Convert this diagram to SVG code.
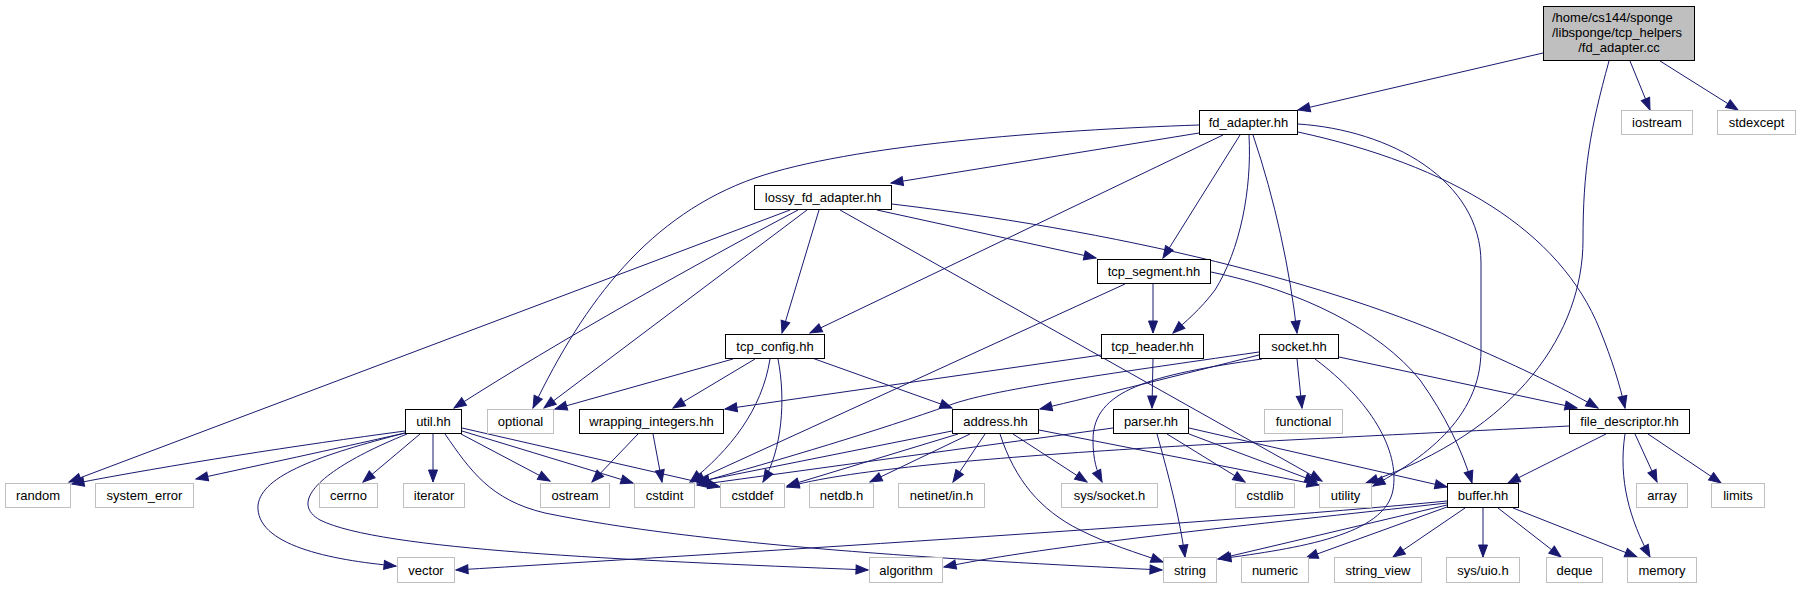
<svg xmlns="http://www.w3.org/2000/svg" width="1801" height="589" viewBox="0 0 1801 589">
<style>
text{font-family:"Liberation Sans",Arial,sans-serif;font-size:13px;fill:#000;text-anchor:middle}
.main rect{fill:#bfbfbf;stroke:#000;stroke-width:1}
.prj rect{fill:#fff;stroke:#000;stroke-width:1}
.sys rect{fill:#fff;stroke:#bfbfbf;stroke-width:1}
#edges path{fill:none;stroke:#191970;stroke-width:1;marker-end:url(#ah)}
</style>
<defs>
<marker id="ah" markerUnits="userSpaceOnUse" markerWidth="12" markerHeight="9" refX="12" refY="4.5" orient="auto" viewBox="0 0 12 9" overflow="visible">
<path d="M0,0 L12,4.5 L0,9 z" fill="#191970" stroke="#191970" stroke-width="1"/>
</marker>
</defs>
<rect width="1801" height="589" fill="#fff"/>
<g id="edges">
<path d="M1543,53 L1298,110"/>
<path d="M1630,61 L1650,110"/>
<path d="M1660,61 L1738,110"/>
<path d="M1609,61 C1590,130 1583,170 1583,240 C1583,330 1520,430 1366,483"/>
<path d="M1199,133 L891,183"/>
<path d="M1199,125 C1050,130 850,145 755,178 C650,215 585,300 533,408"/>
<path d="M1223,135 L810,333"/>
<path d="M1240,135 L1163,258"/>
<path d="M1249,135 C1252,190 1240,250 1215,290 C1200,310 1185,322 1173,333"/>
<path d="M1253,135 C1275,200 1290,270 1297,333"/>
<path d="M1298,124 C1390,130 1481,180 1481,263 L1481,350 C1481,420 1420,460 1373,486"/>
<path d="M1298,132 C1450,165 1560,230 1600,330 C1612,360 1620,385 1625,408"/>
<path d="M790,210 L69,482"/>
<path d="M798,210 C700,262 560,340 454,408"/>
<path d="M807,210 L544,408"/>
<path d="M819,210 L782,333"/>
<path d="M840,210 L1322,481"/>
<path d="M877,210 L1096,258"/>
<path d="M892,204 C1150,235 1350,290 1480,350 C1530,372 1570,392 1598,408"/>
<path d="M1153,284 L1153,333"/>
<path d="M1125,284 L692,482"/>
<path d="M1211,272 C1300,290 1380,330 1420,380 C1445,415 1462,450 1472,483"/>
<path d="M733,359 L555,409"/>
<path d="M755,359 L673,408"/>
<path d="M770,359 C762,410 730,450 690,482"/>
<path d="M778,359 C786,400 782,450 763,482"/>
<path d="M812,358 L952,408"/>
<path d="M1101,355 L725,409"/>
<path d="M1153,359 L1152,408"/>
<path d="M1259,355 C1180,375 1100,395 1040,409"/>
<path d="M1259,352 C1100,375 990,390 950,405 C880,430 780,460 697,483"/>
<path d="M1262,359 C1150,375 1093,390 1093,440 C1093,460 1097,472 1102,482"/>
<path d="M1297,359 L1302,408"/>
<path d="M1315,359 C1370,400 1400,450 1393,490 C1385,535 1300,548 1219,559"/>
<path d="M1339,357 L1577,408"/>
<path d="M638,434 L592,482"/>
<path d="M653,434 L662,482"/>
<path d="M405,431 C300,445 170,465 72,484"/>
<path d="M405,433 C330,450 260,465 196,479"/>
<path d="M420,434 L363,482"/>
<path d="M433,434 L433,482"/>
<path d="M405,433 C320,455 262,475 258,505 C255,545 330,560 396,566"/>
<path d="M407,434 C330,465 285,500 320,520 C380,550 620,560 868,570"/>
<path d="M461,434 L550,481"/>
<path d="M462,431 L633,483"/>
<path d="M462,428 L720,487"/>
<path d="M445,434 C470,470 490,500 545,513 C700,545 950,560 1162,570"/>
<path d="M952,431 L697,482"/>
<path d="M958,434 L787,486"/>
<path d="M970,434 L870,482"/>
<path d="M985,434 L953,482"/>
<path d="M1013,434 L1087,482"/>
<path d="M1000,434 C1015,480 1040,510 1080,530 C1110,545 1135,552 1163,562"/>
<path d="M1039,430 L1319,485"/>
<path d="M1113,428 L697,485"/>
<path d="M1157,434 C1170,480 1180,520 1185,557"/>
<path d="M1167,434 L1245,482"/>
<path d="M1189,434 L1317,482"/>
<path d="M1189,428 L1447,487"/>
<path d="M1569,426 C1300,440 900,455 787,487"/>
<path d="M1606,434 L1508,483"/>
<path d="M1635,434 L1657,482"/>
<path d="M1648,434 L1721,483"/>
<path d="M1625,434 C1618,480 1630,520 1650,557"/>
<path d="M1447,505 L1218,559"/>
<path d="M1447,501 C1200,525 700,555 456,570"/>
<path d="M1447,503 C1250,525 1050,545 944,567"/>
<path d="M1447,507 L1306,558"/>
<path d="M1465,508 L1393,557"/>
<path d="M1483,508 L1483,557"/>
<path d="M1498,508 L1561,557"/>
<path d="M1513,508 L1637,557"/>
</g>
<g id="n_main" class="main"><rect x="1543.5" y="6.5" width="151" height="54"/>
<text x="1552" y="22" style="text-anchor:start">/home/cs144/sponge</text>
<text x="1552" y="37" style="text-anchor:start">/libsponge/tcp_helpers</text>
<text x="1619" y="51.5">/fd_adapter.cc</text></g>
<g id="n_fd_adapter_hh" class="prj"><rect x="1199.5" y="110.5" width="98" height="24"/><text x="1248.5" y="127">fd_adapter.hh</text></g>
<g id="n_iostream" class="sys"><rect x="1621.5" y="110.5" width="71" height="24"/><text x="1657" y="127">iostream</text></g>
<g id="n_stdexcept" class="sys"><rect x="1717.5" y="110.5" width="78" height="24"/><text x="1756.5" y="127">stdexcept</text></g>
<g id="n_lossy" class="prj"><rect x="754.5" y="185.5" width="137" height="24"/><text x="823" y="202">lossy_fd_adapter.hh</text></g>
<g id="n_tcp_segment" class="prj"><rect x="1097.5" y="259.5" width="113" height="24"/><text x="1154" y="276">tcp_segment.hh</text></g>
<g id="n_tcp_config" class="prj"><rect x="725.5" y="334.5" width="99" height="24"/><text x="775" y="351">tcp_config.hh</text></g>
<g id="n_tcp_header" class="prj"><rect x="1101.5" y="334.5" width="102" height="24"/><text x="1152.5" y="351">tcp_header.hh</text></g>
<g id="n_socket" class="prj"><rect x="1259.5" y="334.5" width="79" height="24"/><text x="1299" y="351">socket.hh</text></g>
<g id="n_util" class="prj"><rect x="405.5" y="409.5" width="56" height="24"/><text x="433.5" y="426">util.hh</text></g>
<g id="n_optional" class="sys"><rect x="487.5" y="409.5" width="66" height="24"/><text x="520.5" y="426">optional</text></g>
<g id="n_wrapping" class="prj"><rect x="579.5" y="409.5" width="144" height="24"/><text x="651.5" y="426">wrapping_integers.hh</text></g>
<g id="n_address" class="prj"><rect x="952.5" y="409.5" width="86" height="24"/><text x="995.5" y="426">address.hh</text></g>
<g id="n_parser" class="prj"><rect x="1113.5" y="409.5" width="75" height="24"/><text x="1151" y="426">parser.hh</text></g>
<g id="n_functional" class="sys"><rect x="1264.5" y="409.5" width="78" height="24"/><text x="1303.5" y="426">functional</text></g>
<g id="n_file_descriptor" class="prj"><rect x="1569.5" y="409.5" width="120" height="24"/><text x="1629.5" y="426">file_descriptor.hh</text></g>
<g id="n_random" class="sys"><rect x="5.5" y="483.5" width="65" height="24"/><text x="38" y="500">random</text></g>
<g id="n_system_error" class="sys"><rect x="95.5" y="483.5" width="98" height="24"/><text x="144.5" y="500">system_error</text></g>
<g id="n_cerrno" class="sys"><rect x="319.5" y="483.5" width="58" height="24"/><text x="348.5" y="500">cerrno</text></g>
<g id="n_iterator" class="sys"><rect x="403.5" y="483.5" width="61" height="24"/><text x="434" y="500">iterator</text></g>
<g id="n_ostream" class="sys"><rect x="540.5" y="483.5" width="69" height="24"/><text x="575" y="500">ostream</text></g>
<g id="n_cstdint" class="sys"><rect x="634.5" y="483.5" width="60" height="24"/><text x="664.5" y="500">cstdint</text></g>
<g id="n_cstddef" class="sys"><rect x="720.5" y="483.5" width="64" height="24"/><text x="752.5" y="500">cstddef</text></g>
<g id="n_netdb" class="sys"><rect x="809.5" y="483.5" width="64" height="24"/><text x="841.5" y="500">netdb.h</text></g>
<g id="n_netinet" class="sys"><rect x="898.5" y="483.5" width="86" height="24"/><text x="941.5" y="500">netinet/in.h</text></g>
<g id="n_sys_socket" class="sys"><rect x="1061.5" y="483.5" width="96" height="24"/><text x="1109.5" y="500">sys/socket.h</text></g>
<g id="n_cstdlib" class="sys"><rect x="1235.5" y="483.5" width="59" height="24"/><text x="1265" y="500">cstdlib</text></g>
<g id="n_utility" class="sys"><rect x="1319.5" y="483.5" width="52" height="24"/><text x="1345.5" y="500">utility</text></g>
<g id="n_buffer" class="prj"><rect x="1447.5" y="483.5" width="71" height="24"/><text x="1483" y="500">buffer.hh</text></g>
<g id="n_array" class="sys"><rect x="1636.5" y="483.5" width="51" height="24"/><text x="1662" y="500">array</text></g>
<g id="n_limits" class="sys"><rect x="1711.5" y="483.5" width="53" height="24"/><text x="1738" y="500">limits</text></g>
<g id="n_vector" class="sys"><rect x="397.5" y="557.5" width="57" height="25"/><text x="426" y="574.5">vector</text></g>
<g id="n_algorithm" class="sys"><rect x="869.5" y="557.5" width="73" height="25"/><text x="906" y="574.5">algorithm</text></g>
<g id="n_string" class="sys"><rect x="1163.5" y="557.5" width="53" height="25"/><text x="1190" y="574.5">string</text></g>
<g id="n_numeric" class="sys"><rect x="1241.5" y="557.5" width="67" height="25"/><text x="1275" y="574.5">numeric</text></g>
<g id="n_string_view" class="sys"><rect x="1334.5" y="557.5" width="87" height="25"/><text x="1378" y="574.5">string_view</text></g>
<g id="n_sys_uio" class="sys"><rect x="1446.5" y="557.5" width="73" height="25"/><text x="1483" y="574.5">sys/uio.h</text></g>
<g id="n_deque" class="sys"><rect x="1546.5" y="557.5" width="56" height="25"/><text x="1574.5" y="574.5">deque</text></g>
<g id="n_memory" class="sys"><rect x="1627.5" y="557.5" width="69" height="25"/><text x="1662" y="574.5">memory</text></g>
</svg>
